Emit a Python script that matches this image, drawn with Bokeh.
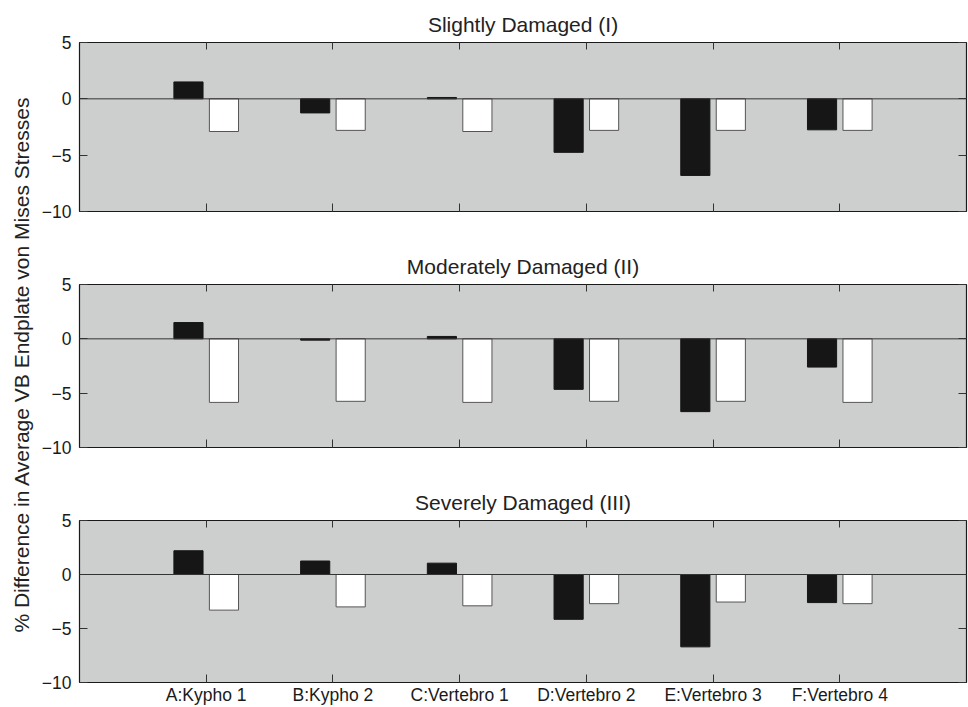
import math
from bokeh.plotting import figure
from bokeh.models import Range1d, FixedTicker, LinearAxis, Span, Label, ColumnDataSource
from bokeh.transform import dodge
from bokeh.layouts import row, column
from bokeh.embed import file_html
from bokeh.resources import INLINE

# ---------------- data ----------------
categories = ["A:Kypho 1", "B:Kypho 2", "C:Vertebro 1",
              "D:Vertebro 2", "E:Vertebro 3", "F:Vertebro 4"]
panel_titles = ["Slightly Damaged (I)", "Moderately Damaged (II)", "Severely Damaged (III)"]
y_ticks = [-10, -5, 0, 5]
y_label = "% Difference in Average VB Endplate von Mises Stresses"

slight_black = [1.5, -1.25, 0.12, -4.75, -6.8, -2.75]
slight_white = [-2.9, -2.8, -2.9, -2.8, -2.8, -2.8]
moderate_black = [1.5, -0.12, 0.22, -4.65, -6.7, -2.6]
moderate_white = [-5.85, -5.75, -5.85, -5.75, -5.75, -5.85]
severe_black = [2.2, 1.25, 1.05, -4.15, -6.7, -2.6]
severe_white = [-3.3, -3.0, -2.9, -2.7, -2.55, -2.7]

FONT = "Liberation Sans"
BG = "#cdcfce"
TICK = "#333333"


def style_axis(ax, tick_in):
    ax.axis_line_color = None
    ax.major_tick_in = tick_in
    ax.major_tick_out = 0
    ax.minor_tick_line_color = None
    ax.major_tick_line_color = TICK
    ax.major_label_text_font = FONT
    ax.major_label_text_font_size = "17.5px"
    ax.major_label_text_color = "#1a1a1a"


def make_panel(title, black, white, height, top, bottom, show_x_labels):
    xs = list(range(1, len(categories) + 1))
    p = figure(width=930, height=height, x_range=Range1d(0, len(categories) + 1),
               y_range=Range1d(-10, 5), output_backend="svg", toolbar_location=None,
               min_border_left=39, min_border_right=2, min_border_top=top,
               min_border_bottom=bottom, title=title)
    p.background_fill_color = BG
    p.border_fill_color = "white"
    p.outline_line_color = "#1a1a1a"
    p.outline_line_width = 1.2
    p.grid.visible = False

    p.title.text_font = FONT
    p.title.text_font_size = "21px"
    p.title.text_font_style = "normal"
    p.title.text_color = "#222222"
    p.title.align = "center"
    p.title.standoff = 14

    xt = FixedTicker(ticks=xs)
    yt = FixedTicker(ticks=y_ticks)

    xa = p.xaxis[0]
    xa.ticker = xt
    style_axis(xa, 8)
    xa.major_label_standoff = 2
    if show_x_labels:
        xa.major_label_overrides = {x: c for x, c in zip(xs, categories)}
    else:
        xa.major_label_overrides = {x: "" for x in xs}

    ya = p.yaxis[0]
    ya.ticker = yt
    style_axis(ya, 8)
    ya.major_label_standoff = 8

    ra = LinearAxis(ticker=FixedTicker(ticks=y_ticks))
    style_axis(ra, 8)
    ra.major_label_overrides = {t: "" for t in y_ticks}
    ra.major_label_standoff = 0
    p.add_layout(ra, "right")

    ta = LinearAxis(ticker=FixedTicker(ticks=xs))
    style_axis(ta, 7)
    ta.major_label_overrides = {x: "" for x in xs}
    ta.major_label_standoff = 0
    p.add_layout(ta, "above")

    src = ColumnDataSource(dict(x=xs, black=black, white=white))
    p.vbar(x=dodge("x", -0.14, range=p.x_range), top="black", bottom=0, width=0.23,
           source=src, fill_color="#161616", line_color="#161616", line_width=1)
    p.vbar(x=dodge("x", 0.14, range=p.x_range), top="white", bottom=0, width=0.23,
           source=src, fill_color="white", line_color="#555555", line_width=1)

    p.add_layout(Span(location=0, dimension="width", line_color="#333333", line_width=1))
    return p


p1 = make_panel(panel_titles[0], slight_black, slight_white, 245, 42, 34, False)
p2 = make_panel(panel_titles[1], moderate_black, moderate_white, 236, 38, 34, False)
p3 = make_panel(panel_titles[2], severe_black, severe_white, 226, 39, 24, True)

total_h = 245 + 236 + 226
lab = figure(width=38, height=total_h, x_range=Range1d(0, 38), y_range=Range1d(0, total_h),
             output_backend="svg", toolbar_location=None, min_border=0,
             x_axis_location=None, y_axis_location=None)
lab.outline_line_color = None
lab.grid.visible = False
lab.add_layout(Label(x=21, y=total_h - 364, text=y_label, angle=math.pi / 2,
                     text_align="center", text_baseline="middle",
                     text_font=FONT, text_font_size="21px", text_color="#222222"))

layout = row(lab, column(p1, p2, p3))

with open("out.html", "w") as f:
    f.write(file_html(layout, INLINE))
